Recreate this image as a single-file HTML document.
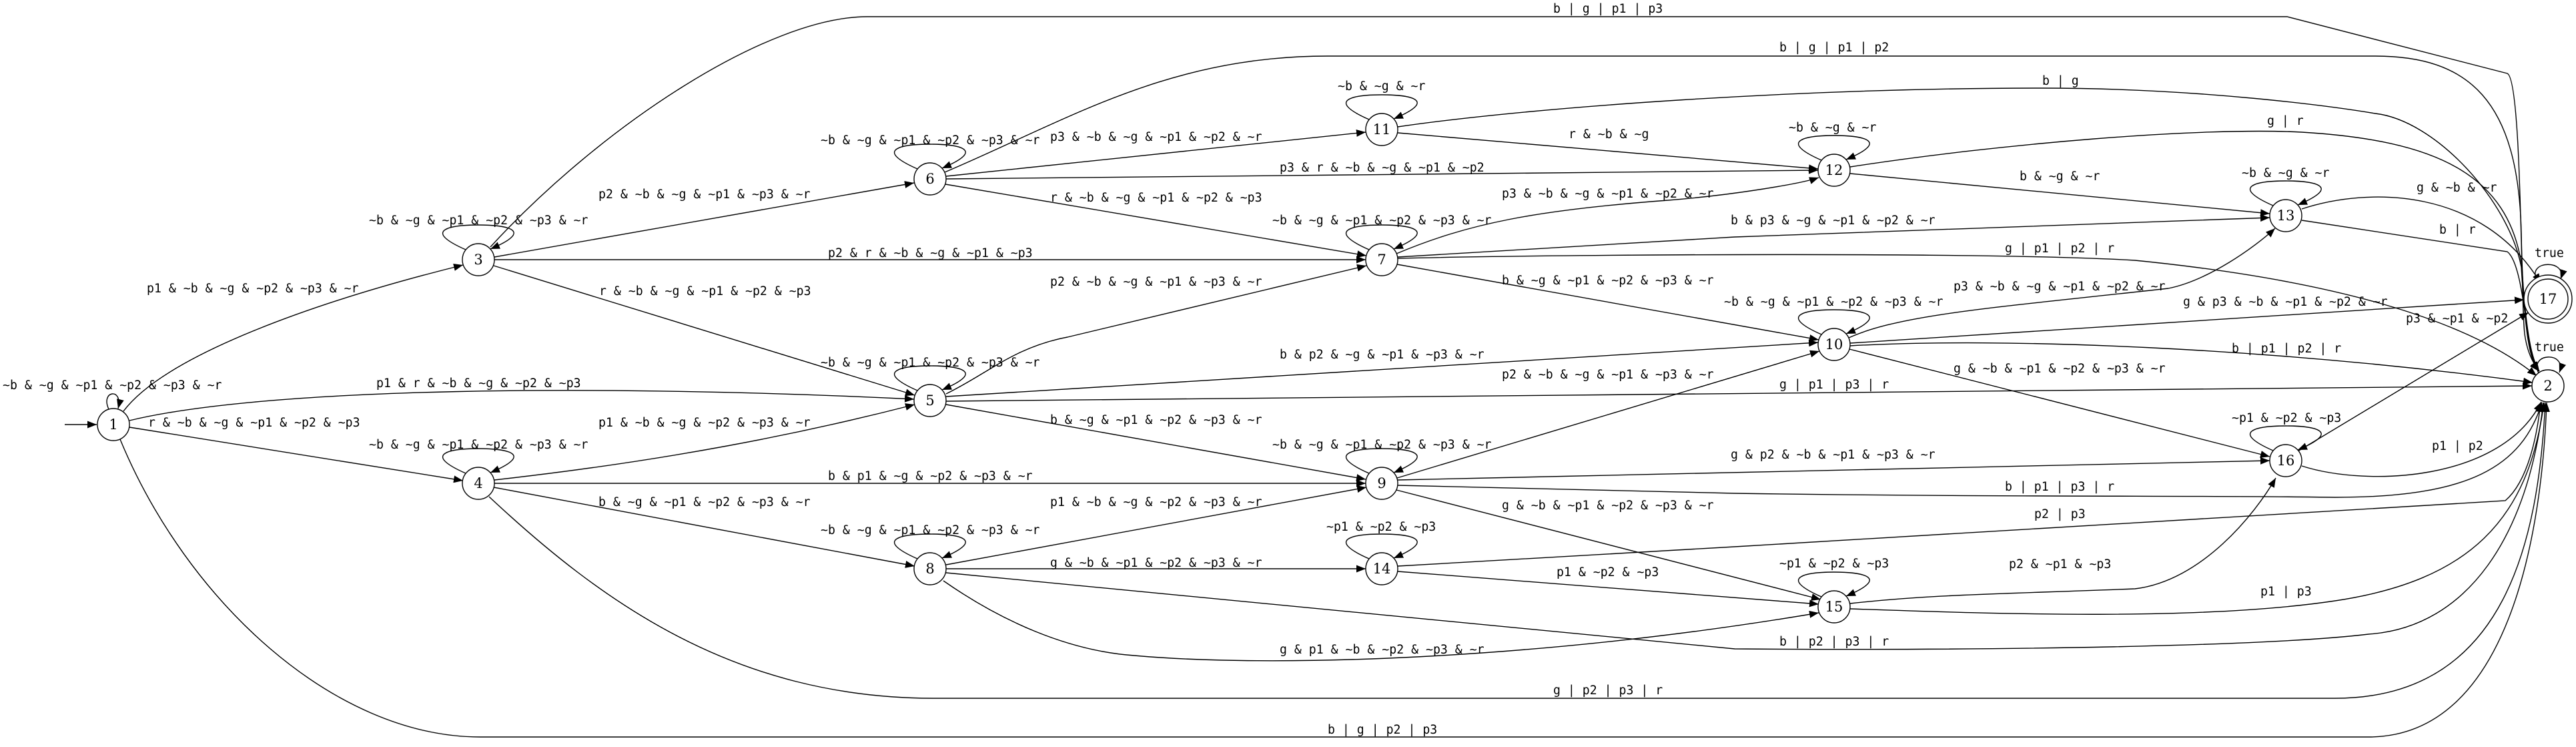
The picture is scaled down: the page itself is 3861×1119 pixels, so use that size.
<!DOCTYPE html>
<html><head><meta charset="utf-8"><style>
html,body{margin:0;padding:0;background:#fff;}
svg{display:block;}
.e{fill:none;stroke:#000;stroke-width:1.4;marker-end:url(#a);}
.n{fill:#fff;stroke:#000;stroke-width:1.4;}
.t{font-family:"DejaVu Sans Mono","Liberation Mono",monospace;font-size:18.2px;fill:#000;}
.nl{font-family:"DejaVu Serif","Liberation Serif",serif;font-size:21px;fill:#000;text-anchor:middle;}
</style></head><body>
<svg width="3861" height="1119" viewBox="0 0 3861 1119" xmlns="http://www.w3.org/2000/svg">
<defs><marker id="a" markerWidth="16" markerHeight="12" refX="14" refY="5.5" orient="auto" markerUnits="userSpaceOnUse"><path d="M0,0 L14,5.5 L0,11 z" fill="#000"/></marker></defs>
<rect width="3861" height="1119" fill="#fff"/>
<path class="e" d="M97,636 L145,636"/>
<path class="e" d="M163,613 C150,585 185,580 177,612"/>
<path class="e" d="M185,616 C250,530 480,450 694,397"/>
<path class="e" d="M194,630 C400,580 900,575 1370,598"/>
<path class="e" d="M194,640 L694,720"/>
<path class="e" d="M180,658 C280,900 500,1104 720,1104 L3550,1104 C3760,1104 3810,800 3817,603"/>
<path class="e" d="M733,744 C900,900 1100,1046 1400,1046 L3500,1046 C3760,1046 3805,800 3815,603"/>
<path class="e" d="M735,370 C900,190 1150,25 1300,25 L3428,25 L3758,110 C3780,120 3778,450 3784,500 C3788,530 3798,545 3805,556"/>
<path class="e" d="M1416,258 C1600,180 1750,84 1990,84 L3560,84 C3700,84 3775,150 3779,350 C3782,500 3792,540 3805,556"/>
<path class="e" d="M741,385 L1370,274"/>
<path class="e" d="M741,389 L2047,389"/>
<path class="e" d="M740,398 L1371,592"/>
<path class="e" d="M741,719 C1000,690 1200,650 1371,606"/>
<path class="e" d="M741,724 L2047,724"/>
<path class="e" d="M740,730 L1371,848"/>
<path class="e" d="M1418,264 L2047,198"/>
<path class="e" d="M2095,199 L2725,253"/>
<path class="e" d="M1418,268 L2725,255"/>
<path class="e" d="M1417,276 L2048,383"/>
<path class="e" d="M2093,380 C2200,335 2300,315 2500,300 C2600,292 2700,275 2726,266"/>
<path class="e" d="M2095,190 C2300,160 2700,132 3060,132 C3300,132 3500,160 3560,170 C3650,180 3760,300 3779,400 C3785,500 3795,540 3806,556"/>
<path class="e" d="M2773,250 C3000,215 3300,190 3450,198 C3650,210 3760,260 3780,400 C3786,500 3795,540 3806,556"/>
<path class="e" d="M2773,260 L3402,320"/>
<path class="e" d="M3450,313 C3550,280 3720,280 3808,424"/>
<path class="e" d="M3450,330 L3758,377 C3775,390 3782,450 3789,500 C3793,530 3798,545 3806,556"/>
<path class="e" d="M2095,387 C2400,380 3000,378 3200,390 C3500,420 3700,480 3802,563"/>
<path class="e" d="M2095,385 L2600,355 L3402,326"/>
<path class="e" d="M2094,396 L2726,509"/>
<path class="e" d="M2771,506 C2850,470 3000,460 3250,432 C3310,420 3380,370 3410,342"/>
<path class="e" d="M2773,514 L3783,449"/>
<path class="e" d="M2773,518 C3000,505 3400,520 3796,573"/>
<path class="e" d="M2772,523 L3402,684"/>
<path class="e" d="M1418,594 L2725,513"/>
<path class="e" d="M1418,601 L3795,578"/>
<path class="e" d="M2094,716 L2727,526"/>
<path class="e" d="M1418,590 C1480,560 1520,520 1600,505 L2048,398"/>
<path class="e" d="M1418,606 L2047,718"/>
<path class="e" d="M2095,719 L3402,690"/>
<path class="e" d="M2095,727 L2600,739 C3000,745 3300,742 3500,745 C3700,745 3780,700 3810,603"/>
<path class="e" d="M2093,734 L2729,898"/>
<path class="e" d="M1418,846 L2048,730"/>
<path class="e" d="M1418,852 L2047,852"/>
<path class="e" d="M2095,848 L2600,819 L3755,750 C3790,720 3803,650 3808,603"/>
<path class="e" d="M2095,856 L2726,905"/>
<path class="e" d="M1414,870 C1500,930 1600,975 1700,982 C1900,1000 2300,990 2726,918"/>
<path class="e" d="M1418,858 L2600,972 C3000,975 3400,968 3550,950 C3700,940 3790,800 3812,603"/>
<path class="e" d="M2773,904 C2900,890 3000,890 3200,882 C3300,870 3380,770 3411,716"/>
<path class="e" d="M2773,912 C3000,920 3300,930 3500,900 C3700,870 3790,780 3813,603"/>
<path class="e" d="M3450,698 C3550,730 3750,720 3809,602"/>
<path class="e" d="M3444,676 L3790,468"/>
<path class="e" d="M698,374 C630,344 677,337 717,337 C757,337 804,344 735,373"/>
<path class="e" d="M698,709 C630,679 677,672 717,672 C757,672 804,679 735,708"/>
<path class="e" d="M1375,253 C1307,223 1354,216 1394,216 C1434,216 1481,223 1412,252"/>
<path class="e" d="M1375,585 C1307,555 1354,548 1394,548 C1434,548 1481,555 1412,584"/>
<path class="e" d="M1375,837 C1307,807 1354,800 1394,800 C1434,800 1481,807 1412,836"/>
<path class="e" d="M2052,179 C1984,149 2031,142 2071,142 C2111,142 2158,149 2089,178"/>
<path class="e" d="M2052,374 C1984,344 2031,337 2071,337 C2111,337 2158,344 2089,373"/>
<path class="e" d="M2052,709 C1984,679 2031,672 2071,672 C2111,672 2158,679 2089,708"/>
<path class="e" d="M2052,837 C1984,807 2031,800 2071,800 C2111,800 2158,807 2089,836"/>
<path class="e" d="M2730,240 C2662,210 2709,203 2749,203 C2789,203 2836,210 2767,239"/>
<path class="e" d="M2730,501 C2662,471 2709,464 2749,464 C2789,464 2836,471 2767,500"/>
<path class="e" d="M2730,894 C2662,864 2709,857 2749,857 C2789,857 2836,864 2767,893"/>
<path class="e" d="M3407,308 C3339,278 3386,271 3426,271 C3466,271 3513,278 3444,307"/>
<path class="e" d="M3407,675 C3339,645 3386,638 3426,638 C3466,638 3513,645 3444,674"/>
<path class="e" d="M3805,559 C3790,528 3848,526 3836,558"/>
<path class="e" d="M3802,418 C3788,390 3848,388 3838,418"/>
<circle class="n" cx="170" cy="636" r="24"/><text class="nl" x="170" y="643">1</text>
<circle class="n" cx="717" cy="389" r="24"/><text class="nl" x="717" y="396">3</text>
<circle class="n" cx="717" cy="724" r="24"/><text class="nl" x="717" y="731">4</text>
<circle class="n" cx="1394" cy="268" r="24"/><text class="nl" x="1394" y="275">6</text>
<circle class="n" cx="1394" cy="600" r="24"/><text class="nl" x="1394" y="607">5</text>
<circle class="n" cx="1394" cy="852" r="24"/><text class="nl" x="1394" y="859">8</text>
<circle class="n" cx="2071" cy="194" r="24"/><text class="nl" x="2071" y="201">11</text>
<circle class="n" cx="2071" cy="389" r="24"/><text class="nl" x="2071" y="396">7</text>
<circle class="n" cx="2071" cy="724" r="24"/><text class="nl" x="2071" y="731">9</text>
<circle class="n" cx="2071" cy="852" r="24"/><text class="nl" x="2071" y="859">14</text>
<circle class="n" cx="2749" cy="255" r="24"/><text class="nl" x="2749" y="262">12</text>
<circle class="n" cx="2749" cy="516" r="24"/><text class="nl" x="2749" y="523">10</text>
<circle class="n" cx="2749" cy="909" r="24"/><text class="nl" x="2749" y="916">15</text>
<circle class="n" cx="3426" cy="323" r="24"/><text class="nl" x="3426" y="330">13</text>
<circle class="n" cx="3426" cy="690" r="24"/><text class="nl" x="3426" y="697">16</text>
<circle class="n" cx="3819" cy="448" r="36"/><circle class="n" cx="3819" cy="448" r="30"/><text class="nl" x="3819" y="455">17</text>
<circle class="n" cx="3819" cy="578" r="24"/><text class="nl" x="3819" y="585">2</text>
<g class="t">
<text x="4" y="583">~b &amp; ~g &amp; ~p1 &amp; ~p2 &amp; ~p3 &amp; ~r</text>
<text x="220" y="438">p1 &amp; ~b &amp; ~g &amp; ~p2 &amp; ~p3 &amp; ~r</text>
<text x="553" y="336">~b &amp; ~g &amp; ~p1 &amp; ~p2 &amp; ~p3 &amp; ~r</text>
<text x="564" y="580">p1 &amp; r &amp; ~b &amp; ~g &amp; ~p2 &amp; ~p3</text>
<text x="222" y="639">r &amp; ~b &amp; ~g &amp; ~p1 &amp; ~p2 &amp; ~p3</text>
<text x="553" y="672">~b &amp; ~g &amp; ~p1 &amp; ~p2 &amp; ~p3 &amp; ~r</text>
<text x="897" y="297">p2 &amp; ~b &amp; ~g &amp; ~p1 &amp; ~p3 &amp; ~r</text>
<text x="1241" y="385">p2 &amp; r &amp; ~b &amp; ~g &amp; ~p1 &amp; ~p3</text>
<text x="898" y="442">r &amp; ~b &amp; ~g &amp; ~p1 &amp; ~p2 &amp; ~p3</text>
<text x="897" y="639">p1 &amp; ~b &amp; ~g &amp; ~p2 &amp; ~p3 &amp; ~r</text>
<text x="1241" y="719">b &amp; p1 &amp; ~g &amp; ~p2 &amp; ~p3 &amp; ~r</text>
<text x="897" y="758">b &amp; ~g &amp; ~p1 &amp; ~p2 &amp; ~p3 &amp; ~r</text>
<text x="1230" y="549">~b &amp; ~g &amp; ~p1 &amp; ~p2 &amp; ~p3 &amp; ~r</text>
<text x="1230" y="800">~b &amp; ~g &amp; ~p1 &amp; ~p2 &amp; ~p3 &amp; ~r</text>
<text x="1230" y="216">~b &amp; ~g &amp; ~p1 &amp; ~p2 &amp; ~p3 &amp; ~r</text>
<text x="2328" y="19">b | g | p1 | p3</text>
<text x="1990" y="1099">b | g | p2 | p3</text>
<text x="2328" y="1040">g | p2 | p3 | r</text>
<text x="1574" y="211">p3 &amp; ~b &amp; ~g &amp; ~p1 &amp; ~p2 &amp; ~r</text>
<text x="2005" y="135">~b &amp; ~g &amp; ~r</text>
<text x="2351" y="207">r &amp; ~b &amp; ~g</text>
<text x="1918" y="257">p3 &amp; r &amp; ~b &amp; ~g &amp; ~p1 &amp; ~p2</text>
<text x="1574" y="302">r &amp; ~b &amp; ~g &amp; ~p1 &amp; ~p2 &amp; ~p3</text>
<text x="2251" y="296">p3 &amp; ~b &amp; ~g &amp; ~p1 &amp; ~p2 &amp; ~r</text>
<text x="1907" y="336">~b &amp; ~g &amp; ~p1 &amp; ~p2 &amp; ~p3 &amp; ~r</text>
<text x="1574" y="428">p2 &amp; ~b &amp; ~g &amp; ~p1 &amp; ~p3 &amp; ~r</text>
<text x="2251" y="426">b &amp; ~g &amp; ~p1 &amp; ~p2 &amp; ~p3 &amp; ~r</text>
<text x="1918" y="537">b &amp; p2 &amp; ~g &amp; ~p1 &amp; ~p3 &amp; ~r</text>
<text x="2251" y="567">p2 &amp; ~b &amp; ~g &amp; ~p1 &amp; ~p3 &amp; ~r</text>
<text x="1574" y="635">b &amp; ~g &amp; ~p1 &amp; ~p2 &amp; ~p3 &amp; ~r</text>
<text x="1907" y="672">~b &amp; ~g &amp; ~p1 &amp; ~p2 &amp; ~p3 &amp; ~r</text>
<text x="1574" y="758">p1 &amp; ~b &amp; ~g &amp; ~p2 &amp; ~p3 &amp; ~r</text>
<text x="2251" y="763">g &amp; ~b &amp; ~p1 &amp; ~p2 &amp; ~p3 &amp; ~r</text>
<text x="1988" y="795">~p1 &amp; ~p2 &amp; ~p3</text>
<text x="1574" y="849">g &amp; ~b &amp; ~p1 &amp; ~p2 &amp; ~p3 &amp; ~r</text>
<text x="2333" y="863">p1 &amp; ~p2 &amp; ~p3</text>
<text x="1918" y="979">g &amp; p1 &amp; ~b &amp; ~p2 &amp; ~p3 &amp; ~r</text>
<text x="2667" y="77">b | g | p1 | p2</text>
<text x="3061" y="127">b | g</text>
<text x="2681" y="197">~b &amp; ~g &amp; ~r</text>
<text x="3398" y="187">g | r</text>
<text x="3027" y="270">b &amp; ~g &amp; ~r</text>
<text x="3360" y="265">~b &amp; ~g &amp; ~r</text>
<text x="3622" y="287">g &amp; ~b &amp; ~r</text>
<text x="2594" y="336">b &amp; p3 &amp; ~g &amp; ~p1 &amp; ~p2 &amp; ~r</text>
<text x="3656" y="350">b | r</text>
<text x="3005" y="378">g | p1 | p2 | r</text>
<text x="2928" y="435">p3 &amp; ~b &amp; ~g &amp; ~p1 &amp; ~p2 &amp; ~r</text>
<text x="2584" y="458">~b &amp; ~g &amp; ~p1 &amp; ~p2 &amp; ~p3 &amp; ~r</text>
<text x="3272" y="458">g &amp; p3 &amp; ~b &amp; ~p1 &amp; ~p2 &amp; ~r</text>
<text x="3606" y="483">p3 &amp; ~p1 &amp; ~p2</text>
<text x="3799" y="385">true</text>
<text x="3799" y="526">true</text>
<text x="3345" y="528">b | p1 | p2 | r</text>
<text x="2928" y="558">g &amp; ~b &amp; ~p1 &amp; ~p2 &amp; ~p3 &amp; ~r</text>
<text x="2667" y="582">g | p1 | p3 | r</text>
<text x="3345" y="632">~p1 &amp; ~p2 &amp; ~p3</text>
<text x="3645" y="674">p1 | p2</text>
<text x="2594" y="687">g &amp; p2 &amp; ~b &amp; ~p1 &amp; ~p3 &amp; ~r</text>
<text x="3005" y="735">b | p1 | p3 | r</text>
<text x="3049" y="776">p2 | p3</text>
<text x="2667" y="850">~p1 &amp; ~p2 &amp; ~p3</text>
<text x="3011" y="851">p2 &amp; ~p1 &amp; ~p3</text>
<text x="3388" y="892">p1 | p3</text>
<text x="2667" y="967">b | p2 | p3 | r</text>
</g>
</svg>
</body></html>
